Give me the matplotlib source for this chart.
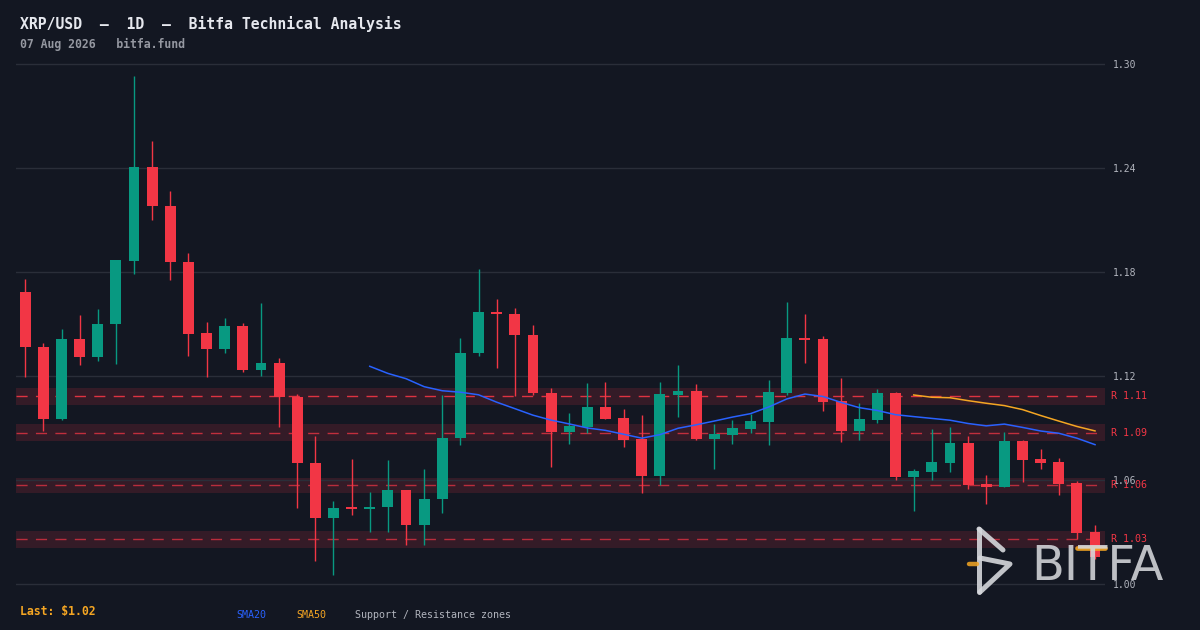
import numpy as np
import pandas as pd
import matplotlib
matplotlib.use("Agg")
import matplotlib.pyplot as plt
from matplotlib.lines import Line2D
from matplotlib.transforms import blended_transform_factory

BG, GRID, TEXT, DIM, AXIS = "#131722", "#2a2e39", "#e6e8ee", "#9598a1", "#b2b5be"
UP, DOWN = "#089981", "#f23645"
BLUE, ORANGE = "#2962ff", "#f5a623"
LOGO = "#d6d8dc"

plt.rcParams.update({
    "figure.facecolor": BG, "axes.facecolor": BG,
    "font.family": ["DejaVu Sans Mono"],
})

# daily candles
opens = [1.1687, 1.1369, 1.0950, 1.1416, 1.1312, 1.1498, 1.1866, 1.2407, 1.2182, 1.1859,
         1.1449, 1.1353, 1.1490, 1.1233, 1.1277, 1.1081, 1.0700, 1.0378, 1.0440, 1.0430,
         1.0442, 1.0544, 1.0342, 1.0488, 1.0840, 1.1330, 1.1571, 1.1559, 1.1438, 1.1104,
         1.0875, 1.0907, 1.1023, 1.0959, 1.0838, 1.0625, 1.1092, 1.1115, 1.0838, 1.0861,
         1.0896, 1.0936, 1.1104, 1.1421, 1.1415, 1.1057, 1.0884, 1.0948, 1.1104, 1.0619,
         1.0648, 1.0700, 1.0815, 1.0579, 1.0561, 1.0827, 1.0723, 1.0706, 1.0584, 1.0302]
highs = [1.1761, 1.1392, 1.1472, 1.1554, 1.1587, 1.1870, 1.2933, 1.2557, 1.2268, 1.1911,
         1.1513, 1.1537, 1.1508, 1.1623, 1.1305, 1.1098, 1.0856, 1.0481, 1.0723, 1.0532,
         1.0717, 1.0544, 1.0665, 1.1092, 1.1421, 1.1819, 1.1646, 1.1594, 1.1496, 1.1132,
         1.0988, 1.1161, 1.1167, 1.1011, 1.0977, 1.1167, 1.1265, 1.1156, 1.0925, 1.0948,
         1.0982, 1.1179, 1.1629, 1.1559, 1.1432, 1.1190, 1.1046, 1.1127, 1.1109, 1.0665,
         1.0896, 1.0907, 1.0856, 1.0630, 1.0879, 1.0833, 1.0781, 1.0729, 1.0596, 1.0342]
lows = [1.1192, 1.0880, 1.0944, 1.1262, 1.1289, 1.1268, 1.1786, 1.2099, 1.1751, 1.1318,
        1.1192, 1.1330, 1.1221, 1.1201, 1.0903, 1.0436, 1.0130, 1.0050, 1.0396, 1.0298,
        1.0298, 1.0223, 1.0223, 1.0411, 1.0800, 1.1313, 1.1244, 1.1082, 1.1088, 1.0673,
        1.0805, 1.0873, 1.0954, 1.0792, 1.0523, 1.0573, 1.0965, 1.0832, 1.0665, 1.0809,
        1.0873, 1.0804, 1.1092, 1.1277, 1.1000, 1.0821, 1.0832, 1.0931, 1.0602, 1.0423,
        1.0602, 1.0648, 1.0550, 1.0463, 1.0561, 1.0590, 1.0665, 1.0515, 1.0261, 1.0146]
closes = [1.1365, 1.0950, 1.1416, 1.1312, 1.1502, 1.1870, 1.2407, 1.2178, 1.1855, 1.1445,
          1.1353, 1.1490, 1.1233, 1.1277, 1.1077, 1.0696, 1.0378, 1.0440, 1.0430, 1.0446,
          1.0544, 1.0342, 1.0492, 1.0844, 1.1334, 1.1571, 1.1555, 1.1434, 1.1100, 1.0875,
          1.0913, 1.1023, 1.0954, 1.0832, 1.0625, 1.1098, 1.1115, 1.0838, 1.0867, 1.0902,
          1.0942, 1.1109, 1.1421, 1.1409, 1.1052, 1.0884, 1.0954, 1.1104, 1.0619, 1.0654,
          1.0706, 1.0815, 1.0573, 1.0561, 1.0827, 1.0717, 1.0700, 1.0579, 1.0296, 1.0157]

zone_levels = [1.1082, 1.0874, 1.0569, 1.0257]
zone_half = [0.0049, 0.0049, 0.0043, 0.0049]
zone_alpha = [0.9, 0.75, 0.7, 0.7]
price_ticks = [1.00, 1.06, 1.12, 1.18, 1.24, 1.30]

W, H = 1200, 630
PAD = 4 / 1733.3   # a few pixels of headroom so edge gridlines are not clipped


def fpx(x, y):
    # pixel position -> figure fraction
    return x / W, 1 - y / H


fig = plt.figure(figsize=(W / 100, H / 100), dpi=100)
ax = fig.add_axes([16 / W, 42 / H, 1089 / W, 528 / H])
ax.set_facecolor(BG)
for s in ax.spines.values():
    s.set_visible(False)

x = np.arange(len(closes))
o, h, l, c = map(np.array, (opens, highs, lows, closes))
cols = np.where(c >= o, UP, DOWN)

# support / resistance zones
for lvl, hw, a in zip(zone_levels, zone_half, zone_alpha):
    ax.axhspan(lvl - hw, lvl + hw, color=DOWN, alpha=0.15, lw=0, zorder=1)
    ax.axhline(lvl, color=DOWN, lw=1, ls=(0, (8, 6)), alpha=a, zorder=1.5)

ax.set_yticks(price_ticks)
ax.grid(axis="y", color=GRID, lw=1, zorder=1.2)
ax.set_axisbelow(False)

# candles
ax.vlines(x, l, h, colors=cols, lw=1, zorder=3)
body = np.maximum(np.abs(c - o), 0.0012)
ax.bar(x, body, bottom=np.minimum(o, c), width=0.6, color=cols, lw=0, zorder=4)

# moving averages
cs = pd.Series(closes)
ax.plot(x, cs.rolling(20).mean(), color=BLUE, lw=1.1, zorder=5)
ax.plot(x, cs.rolling(50).mean(), color=ORANGE, lw=1.1, zorder=5)

ax.set_xlim(-0.51, 59.55)
ax.set_ylim(1.00 - PAD, 1.30 + PAD)
ax.set_xticks([])
ax.yaxis.tick_right()
ax.yaxis.set_major_formatter(plt.FuncFormatter(lambda v, _: f"{v:.2f}"))
ax.tick_params(axis="y", length=0, pad=6, labelsize=7, labelcolor=AXIS)

tr = blended_transform_factory(ax.transAxes, ax.transData)
for lvl in zone_levels:
    ax.text(1 + 6 / 1089, lvl, f"R {lvl:.2f}", transform=tr, color=DOWN,
            fontsize=7.2, va="center", ha="left", clip_on=False)

# header / footer text
fig.text(*fpx(20, 24), "XRP/USD  —  1D  —  Bitfa Technical Analysis",
         color=TEXT, fontsize=10.6, fontweight="bold", va="center")
fig.text(*fpx(20, 44), "07 Aug 2026   bitfa.fund",
         color=DIM, fontsize=8.3, fontweight="bold", va="center")
fig.text(*fpx(20, 612), f"Last: ${closes[-1]:.2f}",
         color=ORANGE, fontsize=8.3, fontweight="bold", va="center")
fig.text(*fpx(236, 615), "SMA20", color=BLUE, fontsize=7.2, va="center")
fig.text(*fpx(296, 615), "SMA50", color=ORANGE, fontsize=7.2, va="center")
fig.text(*fpx(355, 615), "Support / Resistance zones", color=AXIS,
         fontsize=7.2, va="center")


# watermark logo
def stroke(pts, color=LOGO, lw=3.6, alpha=0.9):
    xs, ys = zip(*[fpx(px, py) for px, py in pts])
    fig.add_artist(Line2D(xs, ys, color=color, lw=lw, alpha=alpha,
                          solid_capstyle="round", solid_joinstyle="round", zorder=10))


stroke([(979, 529), (979, 592)])
stroke([(979, 529), (1003, 550)])
stroke([(980, 558), (1010, 564), (980, 592)])
stroke([(969, 564), (977, 564)], color=ORANGE, lw=3.2, alpha=0.85)
fig.text(*fpx(1031, 580), "BITFA", color=LOGO, alpha=0.88, fontsize=34.5,
         family=["DejaVu Sans"], va="baseline", ha="left", zorder=10)
stroke([(1077, 548), (1105, 548)], color=ORANGE, lw=3.4, alpha=0.9)

fig.savefig("out.png", dpi=100, facecolor=BG)
